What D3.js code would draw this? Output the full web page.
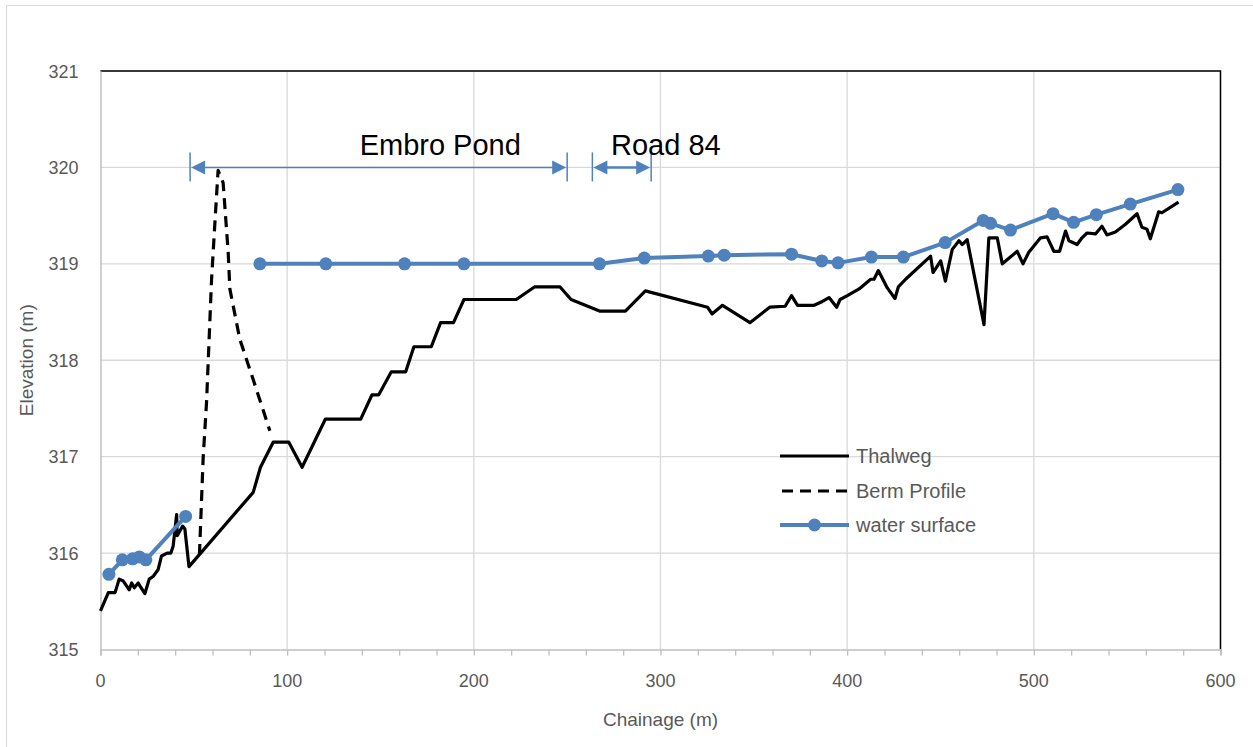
<!DOCTYPE html>
<html><head><meta charset="utf-8">
<script src="https://cdn.jsdelivr.net/npm/d3@7"></script>
<style>body{margin:0;background:#fff}svg{display:block}</style>
</head><body>
<script>
// ---- data ----
const thalwegX = [0,4.2,7.8,10,12.2,15.4,16.7,18.1,20.2,21.1,23.8,26.1,28.3,30.9,32.7,35.7,37.7,38.9,40.8,41.1,44,45.2,47.4,81.8,85.7,92.5,100.9,108,120.5,139.4,145.4,149,155.8,163.5,167.9,177.2,182.2,189.1,194.7,222.7,232.5,246.2,252.1,267.3,281.2,291.9,325.2,327.6,333.2,347.9,358.5,366.8,370.2,373.4,382.3,386.7,390.3,394.4,396.2,400.1,406.4,412.6,414.4,416.7,421.5,425.6,427.4,431.3,444.7,446,450.1,452.6,456.3,459.9,461.6,464.3,473.3,475.9,480.4,483.1,491.1,494.2,497.3,503.6,507.1,510.7,513.8,517,518.8,523.2,525.8,528.5,533,536.5,539.2,543.7,549.1,555.3,557.9,560.6,562.4,566.9,568.6,577.5];
const thalwegY = [315.40,315.59,315.59,315.73,315.71,315.62,315.69,315.64,315.69,315.66,315.58,315.73,315.76,315.83,315.97,316.00,316.00,316.07,316.40,316.18,316.28,316.25,315.86,316.63,316.89,317.15,317.15,316.89,317.39,317.39,317.64,317.64,317.88,317.88,318.14,318.14,318.39,318.39,318.63,318.63,318.76,318.76,318.63,318.51,318.51,318.72,318.55,318.48,318.57,318.39,318.55,318.56,318.67,318.57,318.57,318.61,318.65,318.55,318.63,318.67,318.74,318.84,318.84,318.93,318.75,318.64,318.76,318.84,319.08,318.91,319.03,318.82,319.15,319.24,319.20,319.25,318.37,319.27,319.27,319.00,319.13,319.00,319.12,319.27,319.28,319.13,319.13,319.34,319.24,319.20,319.27,319.32,319.31,319.39,319.30,319.33,319.41,319.52,319.38,319.36,319.26,319.54,319.53,319.64];
const bermX = [53,55,56.8,59.5,61.3,63,65.7,68.4,69.3,74.6,81.8,90.7];
const bermY = [315.98,316.99,317.56,318.84,319.43,319.97,319.84,319.12,318.74,318.22,317.80,317.27];
const waterX = [4.5,11.7,17.2,20.8,24.3,45.6,null,85.4,120.7,162.9,194.7,267.3,291.3,325.6,334.1,370.2,386.4,395.1,413,430.1,452.5,472.9,476.8,487.5,510.3,521.3,533.5,551.7,577.2];
const waterY = [315.78,315.93,315.94,315.96,315.93,316.38,null,319.00,319.00,319.00,319.00,319.00,319.06,319.08,319.09,319.10,319.03,319.01,319.07,319.07,319.22,319.45,319.42,319.35,319.52,319.43,319.51,319.62,319.77];
const spanLabels = ["Embro Pond","Road 84"];
const spanFrom = [48,263.5];
const spanTo = [250,295];
const spanElev = 320.0;
const xTicks = [0,100,200,300,400,500,600];
const yTicks = [315,316,317,318,319,320,321];
const seriesNames = ["Thalweg","Berm Profile","water surface"];

// ---- layout ----
const W = 1253, H = 747;
const L = 100.5, R = 1220.5, T = 71, B = 649.5;
const blue = "#4f81bd";
const svg = d3.select("body").append("svg").attr("width", W).attr("height", H);
const x = d3.scaleLinear().domain([0,600]).range([L,R]);
const y = d3.scaleLinear().domain([315,321]).range([B,T]);
const font = "Liberation Sans, Arial, sans-serif";

// outer frame
svg.append("path").attr("d", `M6.5,${H} V5.5 H${W}`).attr("fill","none").attr("stroke","#d9d9d9").attr("stroke-width",1);

// grid
svg.append("g").selectAll("line.h").data(yTicks.slice(1)).join("line")
  .attr("x1",L).attr("x2",R).attr("y1",d=>y(d)).attr("y2",d=>y(d))
  .attr("stroke","#d9d9d9").attr("stroke-width",1.3);
svg.append("g").selectAll("line.v").data(xTicks.slice(1)).join("line")
  .attr("x1",d=>x(d)).attr("x2",d=>x(d)).attr("y1",T).attr("y2",B)
  .attr("stroke","#d9d9d9").attr("stroke-width",1.3);

// top & right black border
svg.append("path").attr("d", `M${L},${T} H${R} V${B}`).attr("fill","none").attr("stroke","#000").attr("stroke-width",1.5);

// x axis
const xAxis = d3.axisBottom(x).tickValues(d3.range(0,601,20)).tickSize(6).tickFormat("");
const gx = svg.append("g").attr("transform",`translate(0,${B})`).call(xAxis);
gx.select(".domain").attr("stroke","#bfbfbf").attr("stroke-width",1.5);
gx.selectAll(".tick line").attr("stroke","#bfbfbf").attr("stroke-width",1.3);
svg.append("g").selectAll("text").data(xTicks).join("text")
  .attr("x",d=>x(d)).attr("y",B+37).attr("text-anchor","middle")
  .attr("font-family",font).attr("font-size",18).attr("fill","#595959").text(d=>d);

// y axis
const yAxis = d3.axisLeft(y).tickValues(yTicks).tickSize(0).tickFormat("");
const gy = svg.append("g").attr("transform",`translate(${L},0)`).call(yAxis);
gy.select(".domain").attr("stroke","#bfbfbf").attr("stroke-width",1.5);
svg.append("g").selectAll("text").data(yTicks).join("text")
  .attr("x",L-22).attr("y",d=>y(d)+6.5).attr("text-anchor","end")
  .attr("font-family",font).attr("font-size",18).attr("fill","#595959").text(d=>d);

// axis titles
svg.append("text").attr("x",(L+R)/2).attr("y",726).attr("text-anchor","middle")
  .attr("font-family",font).attr("font-size",19).attr("fill","#595959").text("Chainage (m)");
svg.append("text").attr("transform",`translate(33,${(T+B)/2}) rotate(-90)`).attr("text-anchor","middle")
  .attr("font-family",font).attr("font-size",19).attr("fill","#595959").text("Elevation (m)");

// series
const thalweg = thalwegX.map((d,i)=>({x:d,y:thalwegY[i]}));
const berm = bermX.map((d,i)=>({x:d,y:bermY[i]}));
const water = waterX.map((d,i)=>({x:d,y:waterY[i]}));
const line = d3.line().defined(d=>d.x!=null && d.y!=null).x(d=>x(d.x)).y(d=>y(d.y));

svg.append("path").datum(thalweg).attr("d",line).attr("fill","none").attr("stroke","#000")
  .attr("stroke-width",3.2).attr("stroke-linejoin","round");
svg.append("path").datum(berm).attr("d",line).attr("fill","none").attr("stroke","#000")
  .attr("stroke-width",3.2).attr("stroke-dasharray","11,7").attr("stroke-linejoin","round");
svg.append("path").datum(water).attr("d",line).attr("fill","none").attr("stroke",blue)
  .attr("stroke-width",4).attr("stroke-linejoin","round");
svg.append("g").selectAll("circle").data(water.filter(d=>d.x!=null)).join("circle")
  .attr("cx",d=>x(d.x)).attr("cy",d=>y(d.y)).attr("r",6.5).attr("fill",blue);

// span annotations
const ys = y(spanElev);
spanLabels.forEach((lab,i)=>{
  const x0 = x(spanFrom[i]), x1 = x(spanTo[i]);
  const g = svg.append("g");
  const sw = i===0 ? 1.5 : 2.5;
  g.append("line").attr("x1",x0+10).attr("x2",x1-10).attr("y1",ys).attr("y2",ys).attr("stroke",blue).attr("stroke-width",sw);
  g.append("line").attr("x1",x0).attr("x2",x0).attr("y1",ys-15).attr("y2",ys+14).attr("stroke",blue).attr("stroke-width",1.5);
  g.append("line").attr("x1",x1).attr("x2",x1).attr("y1",ys-15).attr("y2",ys+14).attr("stroke",blue).attr("stroke-width",1.5);
  g.append("path").attr("d",`M${x0+1},${ys} L${x0+15},${ys-7} L${x0+15},${ys+7} Z`).attr("fill",blue);
  g.append("path").attr("d",`M${x1-1},${ys} L${x1-15},${ys-7} L${x1-15},${ys+7} Z`).attr("fill",blue);
});
svg.append("text").attr("x",x(182)).attr("y",y(320.13)).attr("text-anchor","middle")
  .attr("font-family",font).attr("font-size",29).attr("fill","#000").text(spanLabels[0]);
svg.append("text").attr("x",x(273.5)).attr("y",y(320.13)).attr("text-anchor","start")
  .attr("font-family",font).attr("font-size",29).attr("fill","#000").text(spanLabels[1]);

// legend
const lg = svg.append("g");
const ly = [456,491,525];
seriesNames.forEach((n,i)=>{
  const l = lg.append("line").attr("x1",780).attr("x2",849).attr("y1",ly[i]).attr("y2",ly[i])
    .attr("stroke", i===2?blue:"#000").attr("stroke-width", i===2?4:3);
  if(i===1) l.attr("stroke-dasharray","11,7").attr("stroke-dashoffset",-2);
  if(i===2) lg.append("circle").attr("cx",814.5).attr("cy",ly[i]).attr("r",6.5).attr("fill",blue);
  lg.append("text").attr("x",856).attr("y",ly[i]+7).attr("font-family",font).attr("font-size",20)
    .attr("fill","#595959").text(n);
});
</script>
</body></html>
